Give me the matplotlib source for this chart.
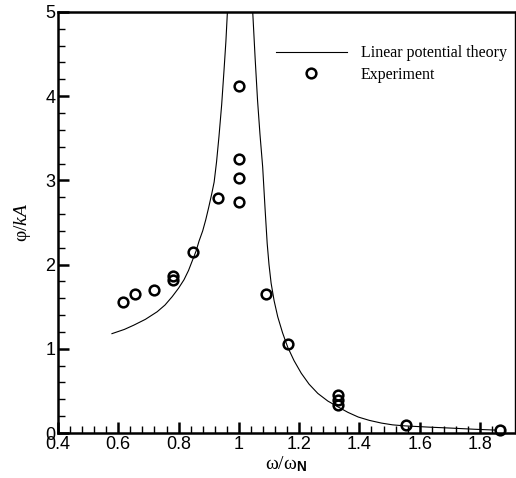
import matplotlib
matplotlib.use('Agg')
import matplotlib.pyplot as plt
from matplotlib.ticker import MultipleLocator

# Experiment points
exp_w = [0.617, 0.657, 0.717, 0.78, 0.78, 0.847, 0.93, 1.0, 1.0, 1.0, 1.0,
         1.09, 1.162, 1.33, 1.33, 1.33, 1.553, 1.867]
exp_phi = [1.56, 1.65, 1.70, 1.82, 1.87, 2.15, 2.79, 2.74, 3.03, 3.25, 4.12,
           1.65, 1.06, 0.33, 0.39, 0.45, 0.10, 0.03]

# Linear potential theory, left branch (below resonance)
th_w_left = [0.579, 0.62, 0.651, 0.69, 0.729, 0.755, 0.779, 0.80, 0.818,
             0.833, 0.846, 0.858, 0.868, 0.88, 0.89, 0.90, 0.91, 0.918,
             0.926, 0.934, 0.943, 0.951, 0.957, 0.962]
th_phi_left = [1.18, 1.23, 1.28, 1.35, 1.44, 1.52, 1.62, 1.72, 1.82,
               1.93, 2.05, 2.16, 2.28, 2.40, 2.53, 2.68, 2.84, 2.98,
               3.22, 3.52, 3.90, 4.32, 4.65, 5.0]

# right branch (above resonance)
th_w_right = [1.046, 1.054, 1.062, 1.07, 1.079, 1.087, 1.094, 1.10, 1.107,
              1.117, 1.129, 1.145, 1.162, 1.183, 1.207, 1.233, 1.262, 1.295,
              1.329, 1.362, 1.396, 1.433, 1.473, 1.51, 1.55, 1.63, 1.707,
              1.78, 1.85]
th_phi_right = [5.0, 4.45, 3.95, 3.55, 3.16, 2.66, 2.25, 2.0, 1.78,
                1.57, 1.38, 1.19, 1.02, 0.86, 0.71, 0.58, 0.47, 0.38,
                0.31, 0.245, 0.19, 0.15, 0.118, 0.097, 0.085, 0.07, 0.058,
                0.045, 0.035]

plt.rcParams['mathtext.fontset'] = 'custom'
plt.rcParams['mathtext.it'] = 'Liberation Serif:italic'
plt.rcParams['mathtext.rm'] = 'Liberation Serif'
plt.rcParams['mathtext.bf'] = 'Liberation Sans:bold'

fig = plt.figure(figsize=(5.16, 4.78), dpi=100)
ax = fig.add_axes([0.1124, 0.0941, 0.8856, 0.8809])

ax.plot(th_w_left, th_phi_left, color='black', lw=0.8,
        label='Linear potential theory')
ax.plot(th_w_right, th_phi_right, color='black', lw=0.8)
ax.plot(exp_w, exp_phi, 'o', ms=7, mfc='none', mec='black', mew=1.8,
        label='Experiment', clip_on=False)

ax.set_xlim(0.4, 1.916)
ax.set_ylim(0, 5)

ax.xaxis.set_minor_locator(MultipleLocator(0.04))
ax.yaxis.set_major_locator(MultipleLocator(1))
ax.yaxis.set_minor_locator(MultipleLocator(0.2))
ax.set_xticks([0.4, 0.6, 0.8, 1.0, 1.2, 1.4, 1.6, 1.8])
ax.set_xticklabels(['0.4', '0.6', '0.8', '1', '1.2', '1.4', '1.6', '1.8'])

ax.tick_params(which='both', direction='in', top=False, right=False,
               labelsize=13, pad=2)
ax.tick_params(which='major', length=8, width=1.8)
ax.tick_params(which='minor', length=5, width=1.0)
for lab in ax.get_xticklabels() + ax.get_yticklabels():
    lab.set_family('Liberation Sans')

for s in ['left', 'bottom', 'top']:
    ax.spines[s].set_linewidth(1.8)
ax.spines['right'].set_linewidth(1.0)

ax.set_xlabel('ω/ω$_\\mathbf{N}$', fontsize=14, family=['Liberation Serif', 'DejaVu Serif'],
              labelpad=1)
ax.set_ylabel('φ/$kA$', fontsize=14, family=['Liberation Serif', 'DejaVu Serif'],
              labelpad=9)

leg = ax.legend(loc='upper right', bbox_to_anchor=(1.0, 0.94), frameon=False,
                prop={'family': 'Liberation Serif', 'size': 11.5},
                handlelength=4.4, handletextpad=0.9, labelspacing=0.35,
                borderaxespad=0.1)

fig.savefig('out.png', dpi=100)
